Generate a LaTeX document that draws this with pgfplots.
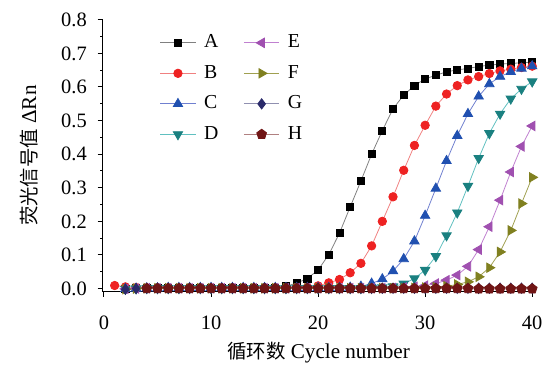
\documentclass[border=0pt]{standalone}
\usepackage{pgfplots}
\pgfplotsset{compat=1.18}
\usepackage{fontspec}
\setmainfont{Liberation Serif}
\newfontfamily\cjk[Scale=0.92]{Noto Sans CJK SC}
\definecolor{cA}{HTML}{000000}\definecolor{lA}{HTML}{808080}
\definecolor{cB}{HTML}{EE2222}\definecolor{lB}{HTML}{F08080}
\definecolor{cC}{HTML}{2050B0}\definecolor{lC}{HTML}{7080D0}
\definecolor{cD}{HTML}{1A8080}\definecolor{lD}{HTML}{60C0C0}
\definecolor{cE}{HTML}{A050B0}\definecolor{lE}{HTML}{C080D0}
\definecolor{cF}{HTML}{808020}\definecolor{lF}{HTML}{A0A050}
\definecolor{cG}{HTML}{2A2A6A}\definecolor{lG}{HTML}{9090B0}
\definecolor{cH}{HTML}{701515}\definecolor{lH}{HTML}{B08080}
\begin{document}
\fontsize{15}{18}\selectfont
\begin{tikzpicture}
\begin{axis}[
  scale only axis, width=327pt, height=206pt,
  xmin=-0.1, xmax=40.2, ymin=-0.009, ymax=0.8,
  axis x line*=bottom, axis y line*=left,
  axis line style={line width=0.75pt},
  tick align=outside, tick style={black, line width=0.75pt},
  major tick length=4pt, minor tick length=2.2pt,
  xtick={0,10,20,30,40}, minor x tick num=1,
  ytick={0,0.1,...,0.8}, minor y tick num=1,
  yticklabel style={/pgf/number format/fixed, /pgf/number format/fixed zerofill, /pgf/number format/precision=1, xshift=-3pt},
  xticklabel style={yshift=-9pt},
  /pgf/number format/assume math mode=true,
  ticklabel style={font=\fontsize{15.5}{18}\selectfont},
  xlabel={{\cjk 循环数} Cycle number},
  ylabel={{\cjk 荧光信号值} ΔRn},
  xlabel style={at={(axis description cs:0.5,-0.225)}, anchor=center, font=\fontsize{16}{19}\selectfont},
  ylabel style={at={(axis description cs:-0.172,0.5)}, anchor=center, font=\fontsize{16}{19}\selectfont},
  legend columns=4, transpose legend,
  legend cell align=left,
  legend style={at={(0.122,0.965)}, anchor=north west, draw=none, fill=none,
    font=\fontsize{15}{18}\selectfont, row sep=7pt,
    /tikz/every even column/.append style={column sep=17pt}},
  legend image code/.code={\draw[mark repeat=2,mark phase=2] plot coordinates {(0pt,0pt) (13.5pt,0pt) (27pt,0pt)};\path (31pt,0pt);},
  every axis plot/.append style={line width=0.6pt},
]
\addplot[color=lA, mark=square*, mark size=2.7pt, mark options={fill=cA, draw=cA}] coordinates {
(2,0.000)(3,0.001)(4,0.001)(5,0.002)(6,0.002)(7,0.002)(8,0.002)(9,0.002)(10,0.002)(11,0.002)(12,0.002)(13,0.002)(14,0.002)(15,0.002)(16,0.003)(17,0.007)(18,0.016)(19,0.030)(20,0.055)(21,0.101)(22,0.165)(23,0.243)(24,0.320)(25,0.400)(26,0.470)(27,0.535)(28,0.576)(29,0.604)(30,0.624)(31,0.635)(32,0.645)(33,0.651)(34,0.655)(35,0.661)(36,0.665)(37,0.668)(38,0.670)(39,0.672)(40,0.674)};
\addlegendentry{A}
\addplot[color=lB, mark=*, mark size=3.2pt, mark options={fill=cB, draw=cB}] coordinates {
(1,0.009)(2,0.005)(3,0.003)(4,0.002)(5,0.002)(6,0.002)(7,0.002)(8,0.002)(9,0.002)(10,0.002)(11,0.002)(12,0.002)(13,0.002)(14,0.002)(15,0.002)(16,0.002)(17,0.002)(18,0.003)(19,0.004)(20,0.008)(21,0.017)(22,0.027)(23,0.047)(24,0.075)(25,0.127)(26,0.200)(27,0.273)(28,0.352)(29,0.426)(30,0.486)(31,0.543)(32,0.579)(33,0.604)(34,0.621)(35,0.631)(36,0.640)(37,0.648)(38,0.653)(39,0.658)(40,0.662)};
\addlegendentry{B}
\addplot[color=lC, mark=triangle*, mark size=4.1pt, mark options={fill=cC, draw=cC}] coordinates {
(2,-0.001)(3,0.000)(4,0.001)(5,0.001)(6,0.002)(7,0.002)(8,0.002)(9,0.002)(10,0.002)(11,0.002)(12,0.002)(13,0.002)(14,0.002)(15,0.002)(16,0.002)(17,0.002)(18,0.002)(19,0.002)(20,0.002)(21,0.002)(22,0.002)(23,0.003)(24,0.006)(25,0.015)(26,0.028)(27,0.052)(28,0.088)(29,0.141)(30,0.217)(31,0.298)(32,0.380)(33,0.455)(34,0.520)(35,0.572)(36,0.609)(37,0.631)(38,0.645)(39,0.655)(40,0.662)};
\addlegendentry{C}
\addplot[color=lD, mark=triangle*, mark size=4.1pt, mark options={fill=cD, draw=cD, rotate=180}] coordinates {
(2,-0.001)(3,0.000)(4,0.001)(5,0.001)(6,0.001)(7,0.001)(8,0.001)(9,0.001)(10,0.001)(11,0.001)(12,0.001)(13,0.001)(14,0.001)(15,0.001)(16,0.001)(17,0.001)(18,0.001)(19,0.001)(20,0.001)(21,0.001)(22,0.001)(23,0.001)(24,0.001)(25,0.002)(26,0.003)(27,0.006)(28,0.014)(29,0.030)(30,0.055)(31,0.096)(32,0.158)(33,0.226)(34,0.305)(35,0.388)(36,0.462)(37,0.520)(38,0.565)(39,0.594)(40,0.616)};
\addlegendentry{D}
\addplot[color=lE, mark=triangle*, mark size=4.1pt, mark options={fill=cE, draw=cE, rotate=90}] coordinates {
(2,-0.001)(3,0.000)(4,0.001)(5,0.001)(6,0.001)(7,0.001)(8,0.001)(9,0.001)(10,0.001)(11,0.001)(12,0.001)(13,0.001)(14,0.001)(15,0.001)(16,0.001)(17,0.001)(18,0.001)(19,0.001)(20,0.001)(21,0.001)(22,0.001)(23,0.001)(24,0.001)(25,0.001)(26,0.001)(27,0.002)(28,0.003)(29,0.005)(30,0.009)(31,0.015)(32,0.025)(33,0.040)(34,0.066)(35,0.116)(36,0.184)(37,0.263)(38,0.347)(39,0.423)(40,0.484)};
\addlegendentry{E}
\addplot[color=lF, mark=triangle*, mark size=4.1pt, mark options={fill=cF, draw=cF, rotate=-90}] coordinates {
(2,-0.002)(3,0.000)(4,0.001)(5,0.001)(6,0.001)(7,0.001)(8,0.001)(9,0.001)(10,0.001)(11,0.001)(12,0.001)(13,0.001)(14,0.001)(15,0.001)(16,0.001)(17,0.001)(18,0.001)(19,0.001)(20,0.001)(21,0.001)(22,0.001)(23,0.001)(24,0.001)(25,0.001)(26,0.001)(27,0.001)(28,0.001)(29,0.002)(30,0.003)(31,0.004)(32,0.007)(33,0.012)(34,0.020)(35,0.035)(36,0.062)(37,0.109)(38,0.173)(39,0.253)(40,0.331)};
\addlegendentry{F}
\addplot[color=lG, mark=diamond*, mark size=3.9pt, mark options={fill=cG, draw=cG}] coordinates {
(2,-0.002)(3,0.000)(4,0.001)(5,0.001)(6,0.001)(7,0.001)(8,0.001)(9,0.001)(10,0.001)(11,0.001)(12,0.001)(13,0.001)(14,0.001)(15,0.001)(16,0.001)(17,0.001)(18,0.001)(19,0.001)(20,0.001)(21,0.001)(22,0.001)(23,0.001)(24,0.001)(25,0.001)(26,0.001)(27,0.001)(28,0.001)(29,0.001)(30,0.001)(31,0.001)(32,0.001)(33,0.001)(34,0.001)(35,0.001)(36,0.001)(37,0.001)(38,0.001)(39,0.001)(40,0.001)};
\addlegendentry{G}
\addplot[color=lH, mark=pentagon*, mark size=3.9pt, mark options={fill=cH, draw=cH}] coordinates {
(4,0.000)(5,0.000)(6,0.000)(7,0.000)(8,0.000)(9,0.000)(10,0.000)(11,0.000)(12,0.000)(13,0.000)(14,0.000)(15,0.000)(16,0.000)(17,0.000)(18,0.000)(19,0.000)(20,0.000)(21,0.000)(22,0.000)(23,0.000)(24,0.000)(25,0.000)(26,0.000)(27,0.000)(28,0.000)(29,0.000)(30,0.000)(31,0.000)(32,0.000)(33,0.000)(34,0.000)(35,-0.001)(36,-0.001)(37,-0.001)(38,-0.001)(39,-0.001)(40,-0.001)};
\addlegendentry{H}
\end{axis}
\path ([shift={(-78pt,-52.5pt)}]current axis.south west) rectangle ([shift={(6.75pt,15pt)}]current axis.north east);
\end{tikzpicture}
\end{document}
